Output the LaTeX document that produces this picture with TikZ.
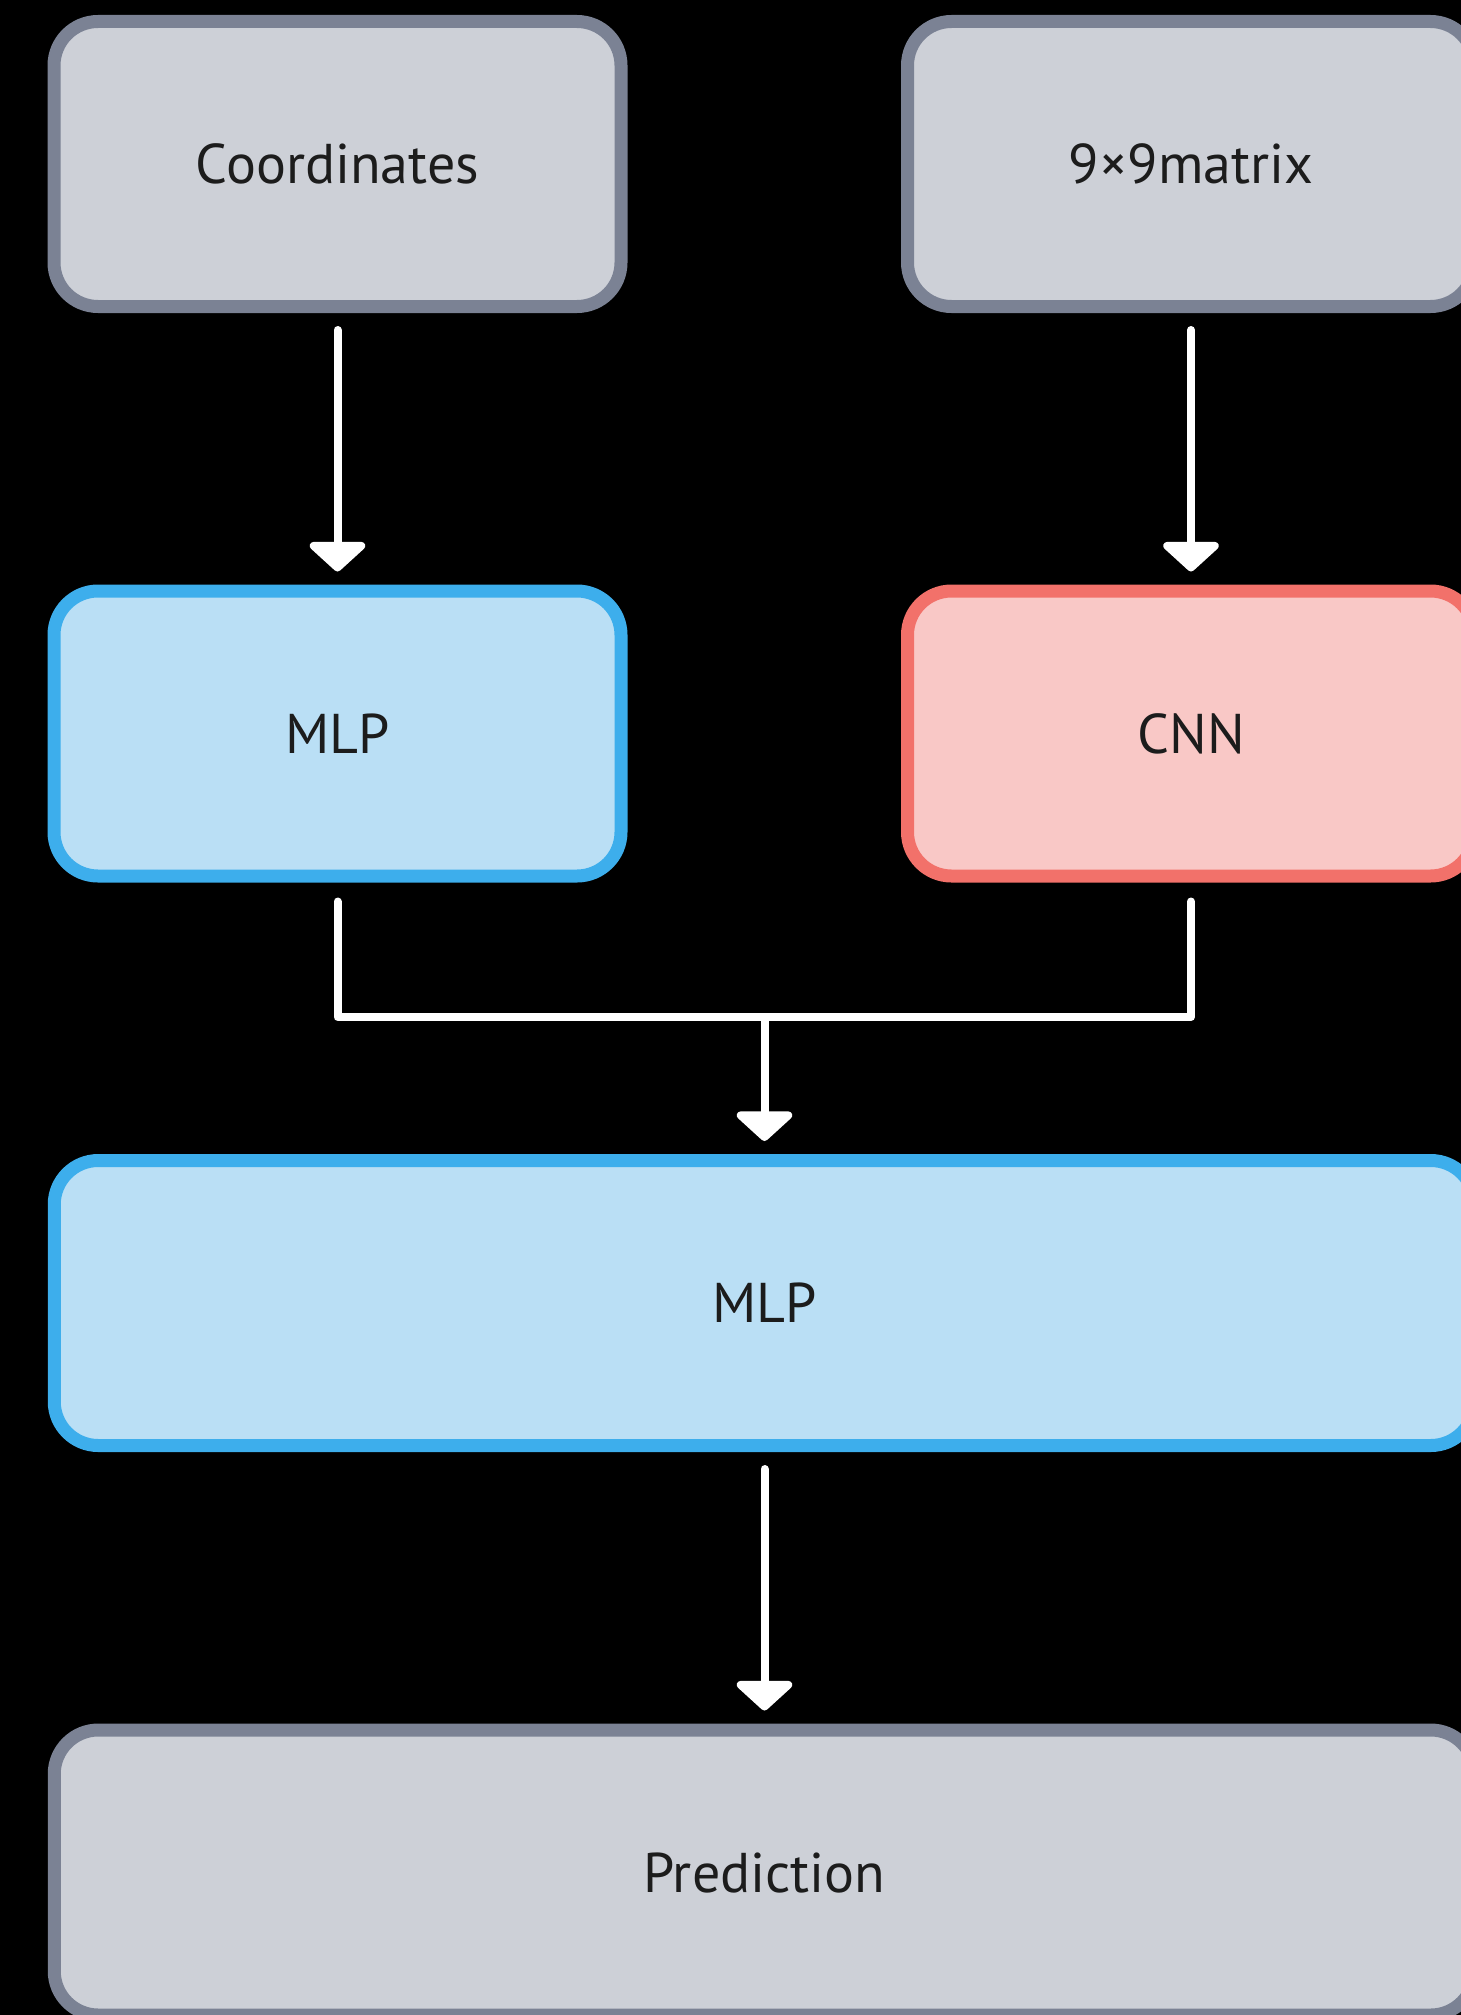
\documentclass[tikz,border=0pt]{standalone}
\usepackage{fontspec}
\setmainfont{PT Sans}
\usetikzlibrary{arrows.meta}

\definecolor{grayfill}{HTML}{CDD0D7}
\definecolor{grayline}{HTML}{7B8294}
\definecolor{bluefill}{HTML}{BADFF5}
\definecolor{blueline}{HTML}{3DAEEC}
\definecolor{redfill}{HTML}{F9C8C6}
\definecolor{redline}{HTML}{F2716A}
\definecolor{labelink}{HTML}{1C1C1C}

\tikzset{
  block/.style={rectangle, rounded corners=44pt, line width=13pt,
    minimum width=567pt, minimum height=285pt, text=labelink,
    font=\fontsize{56}{60}\selectfont},
  ioblock/.style={block, draw=grayline, fill=grayfill},
  mlpblock/.style={block, draw=blueline, fill=bluefill},
  cnnblock/.style={block, draw=redline, fill=redfill},
  link/.style={draw=white, line width=8pt, line cap=round, line join=round},
  conn/.style={link, -{Triangle[width=66pt,length=31pt,round]},
    shorten <=17pt, shorten >=13pt},
}

\begin{document}
\begin{tikzpicture}[x=1pt,y=-1pt]
  \useasboundingbox (0,0) rectangle (1461,2015);
  \clip (0,0) rectangle (1461,2015);
  \fill[black] (0,0) rectangle (1461,2015);

  % inputs
  \node[ioblock] (coords) at (337.5,164) {Coordinates};
  \node[ioblock] (grid) at (1191,164) {9×9matrix};

  % encoders
  \node[mlpblock] (mlpa) at (337.5,733.5) {MLP};
  \node[cnnblock] (cnn) at (1191,733.5) {CNN};

  % fusion head
  \node[mlpblock, minimum width=1420.5pt] (mlpb) at (764.5,1303) {MLP};

  % output
  \node[ioblock, minimum width=1420.5pt] (pred) at (764.5,1872.5) {Prediction};

  \coordinate (merge) at (764.5,1017);

  \draw[conn] (coords.south) -- (mlpa.north);
  \draw[conn] (grid.south) -- (cnn.north);
  \draw[link, shorten <=19pt] (mlpa.south) |- (merge);
  \draw[link, shorten <=19pt] (cnn.south) |- (merge);
  \draw[conn, shorten <=0pt] (merge) -- (mlpb.north);
  \draw[conn] (mlpb.south) -- (pred.north);
\end{tikzpicture}
\end{document}
